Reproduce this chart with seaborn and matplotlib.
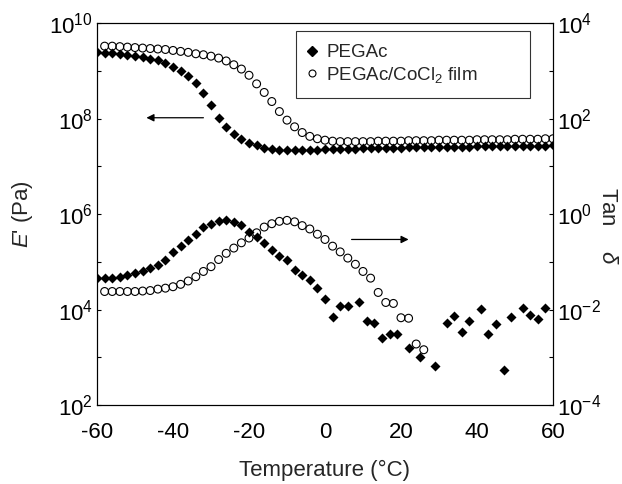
"""
DMA curves: storage modulus E' (left) and tan delta (right) vs temperature
PEGAc vs PEGAc/CoCl2 film
"""

import numpy as np
import matplotlib
matplotlib.use('Agg')
import matplotlib.pyplot as plt
import seaborn as sns
from matplotlib.lines import Line2D
from matplotlib.ticker import FixedLocator, LogFormatterSciNotation, NullFormatter

sns.set_theme(style='white')
plt.rcParams['font.family'] = ['Liberation Sans', 'DejaVu Sans']
plt.rcParams['mathtext.fontset'] = 'custom'
plt.rcParams['mathtext.rm'] = 'Liberation Sans'
plt.rcParams['mathtext.it'] = 'Liberation Sans:italic'
plt.rcParams['mathtext.bf'] = 'Liberation Sans:bold'
plt.rcParams['axes.unicode_minus'] = False

# ---- data (log10 values) ----
labels = ['PEGAc', 'PEGAc/CoCl$_2$ film']

temp_e_pegac = [-60, -58, -56, -54, -52, -50, -48, -46, -44, -42,
                -40, -38, -36, -34, -32, -30, -28, -26, -24, -22,
                -20, -18, -16, -14, -12, -10, -8, -6, -4, -2,
                0, 2, 4, 6, 8, 10, 12, 14, 16, 18,
                20, 22, 24, 26, 28, 30, 32, 34, 36, 38,
                40, 42, 44, 46, 48, 50, 52, 54, 56, 58, 60]
log_e_pegac = [9.40, 9.38, 9.37, 9.36, 9.34, 9.32, 9.29, 9.26, 9.22, 9.17,
               9.09, 9.00, 8.90, 8.75, 8.54, 8.28, 8.02, 7.82, 7.68, 7.57,
               7.50, 7.44, 7.39, 7.36, 7.35, 7.34, 7.34, 7.34, 7.35, 7.35,
               7.36, 7.36, 7.37, 7.37, 7.37, 7.38, 7.38, 7.38, 7.39, 7.39,
               7.39, 7.40, 7.40, 7.40, 7.40, 7.41, 7.41, 7.41, 7.41, 7.41,
               7.42, 7.42, 7.42, 7.42, 7.42, 7.43, 7.43, 7.43, 7.43, 7.43, 7.44]

temp_e_film = [-58, -56, -54, -52, -50, -48, -46, -44, -42, -40,
               -38, -36, -34, -32, -30, -28, -26, -24, -22, -20,
               -18, -16, -14, -12, -10, -8, -6, -4, -2, 0,
               2, 4, 6, 8, 10, 12, 14, 16, 18, 20,
               22, 24, 26, 28, 30, 32, 34, 36, 38, 40,
               42, 44, 46, 48, 50, 52, 54, 56, 58, 60]
log_e_film = [9.52, 9.52, 9.51, 9.50, 9.49, 9.48, 9.47, 9.46, 9.45, 9.43,
              9.41, 9.39, 9.36, 9.34, 9.31, 9.27, 9.21, 9.13, 9.04, 8.91,
              8.73, 8.55, 8.36, 8.15, 7.97, 7.83, 7.71, 7.63, 7.58, 7.55,
              7.53, 7.52, 7.52, 7.52, 7.52, 7.52, 7.53, 7.53, 7.53, 7.53,
              7.54, 7.54, 7.54, 7.54, 7.55, 7.55, 7.55, 7.55, 7.55, 7.56,
              7.56, 7.56, 7.56, 7.56, 7.57, 7.57, 7.57, 7.57, 7.58, 7.58]

temp_tan_pegac = [-60, -58, -56, -54, -52, -50, -48, -46, -44, -42,
                  -40, -38, -36, -34, -32, -30, -28, -26, -24, -22,
                  -20, -18, -16, -14, -12, -10, -8, -6, -4, -2,
                  0, 2, 4, 6, 9, 11, 13, 15, 17, 19,
                  22, 25, 29, 32, 34, 36, 38, 41, 43, 45,
                  47, 49, 52, 54, 56, 58]
log_tan_pegac = [-1.34, -1.33, -1.33, -1.31, -1.27, -1.24, -1.20, -1.12, -1.06, -0.95,
                 -0.79, -0.67, -0.55, -0.41, -0.27, -0.20, -0.15, -0.13, -0.17, -0.23,
                 -0.37, -0.48, -0.60, -0.76, -0.87, -0.97, -1.16, -1.27, -1.37, -1.54,
                 -1.77, -2.16, -1.92, -1.92, -1.85, -2.24, -2.29, -2.60, -2.50, -2.52,
                 -2.81, -2.99, -3.19, -2.29, -2.13, -2.46, -2.24, -1.99, -2.52, -2.31,
                 -3.27, -2.15, -1.97, -2.11, -2.20, -1.96]

temp_tan_film = [-58, -56, -54, -52, -50, -48, -46, -44, -42, -40,
                 -38, -36, -34, -32, -30, -28, -26, -24, -22, -20,
                 -18, -16, -14, -12, -10, -8, -6, -4, -2, 0,
                 2, 4, 6, 8, 10, 12, 14, 16, 18, 20,
                 22, 24, 26]
log_tan_film = [-1.62, -1.62, -1.62, -1.62, -1.62, -1.61, -1.60, -1.57, -1.55, -1.52,
                -1.47, -1.40, -1.31, -1.20, -1.10, -0.95, -0.82, -0.71, -0.60, -0.50,
                -0.39, -0.27, -0.20, -0.15, -0.13, -0.16, -0.24, -0.31, -0.42, -0.53,
                -0.67, -0.79, -0.92, -1.05, -1.20, -1.34, -1.64, -1.85, -1.87, -2.17,
                -2.18, -2.72, -2.84]

x_ticks = [-60, -40, -20, 0, 20, 40, 60]

# arrows pointing to the axis each curve family belongs to
arrow_e = ((-32, 10 ** 8.02), (-47, 10 ** 8.02))
arrow_tan = ((7, 10 ** -0.53), (22, 10 ** -0.53))

FS = 16

fig = plt.figure(figsize=(6.22, 4.84), dpi=100)
ax = fig.add_axes([0.156, 0.163, 0.733, 0.789])
ax2 = ax.twinx()

sns.scatterplot(x=temp_e_pegac, y=np.power(10.0, log_e_pegac), ax=ax,
                marker='D', s=26, color='black', linewidth=0)
sns.scatterplot(x=temp_e_film, y=np.power(10.0, log_e_film), ax=ax,
                marker='o', s=32, facecolors='none', edgecolor='black', linewidth=0.8)
sns.scatterplot(x=temp_tan_pegac, y=np.power(10.0, log_tan_pegac), ax=ax2,
                marker='D', s=26, color='black', linewidth=0)
sns.scatterplot(x=temp_tan_film, y=np.power(10.0, log_tan_film), ax=ax2,
                marker='o', s=32, facecolors='none', edgecolor='black', linewidth=0.8)

for a, lo, hi in [(ax, 1e2, 1e10), (ax2, 1e-4, 1e4)]:
    a.set_yscale('log')
    a.set_ylim(lo, hi)
    exps = np.arange(int(np.log10(lo)), int(np.log10(hi)) + 1)
    a.yaxis.set_major_locator(FixedLocator([10.0 ** e for e in exps if e % 2 == 0]))
    a.yaxis.set_minor_locator(FixedLocator([10.0 ** e for e in exps if e % 2 != 0]))
    a.yaxis.set_major_formatter(LogFormatterSciNotation())
    a.yaxis.set_minor_formatter(NullFormatter())
    a.tick_params(axis='both', which='both', direction='in', length=3, width=0.8,
                  labelsize=FS, colors='black')
    a.tick_params(axis='y', pad=3)
    a.grid(False)

ax.tick_params(axis='x', pad=12)

ax.set_xlim(-60, 60)
ax.set_xticks(x_ticks)
ax.set_xticklabels([str(t) for t in x_ticks])

for a in (ax, ax2):
    for sp in a.spines.values():
        sp.set_color('black')
        sp.set_linewidth(0.8)

ax.set_xlabel('Temperature (\u00b0C)', fontsize=FS, labelpad=12)
ax.set_ylabel(r"$E$' (Pa)", fontsize=FS)
ax.yaxis.set_label_coords(-0.135, 0.5)
ax2.set_ylabel(r'Tan    $\delta$', fontsize=FS, rotation=270)
ax2.yaxis.set_label_coords(1.143, 0.47)

for a, (start, end) in [(ax, arrow_e), (ax2, arrow_tan)]:
    a.annotate('', xy=end, xytext=start,
               arrowprops=dict(arrowstyle='-|>', color='black', lw=0.9,
                               mutation_scale=11, shrinkA=0, shrinkB=0))

handles = [Line2D([], [], marker='D', ls='', color='black', ms=5),
           Line2D([], [], marker='o', ls='', mfc='none', mec='black', mew=0.8, ms=5)]
leg = ax2.legend(handles, labels, loc='upper left',
                 bbox_to_anchor=(0.437, 0.98, 0.513, 0.0), mode='expand',
                 fontsize=13.5, frameon=True, fancybox=False, edgecolor='black',
                 handlelength=0.3, handletextpad=0.6, labelspacing=0.2,
                 borderpad=0.7, borderaxespad=0)
leg.get_frame().set_linewidth(0.8)

plt.savefig('out.png', dpi=100)
plt.close()
